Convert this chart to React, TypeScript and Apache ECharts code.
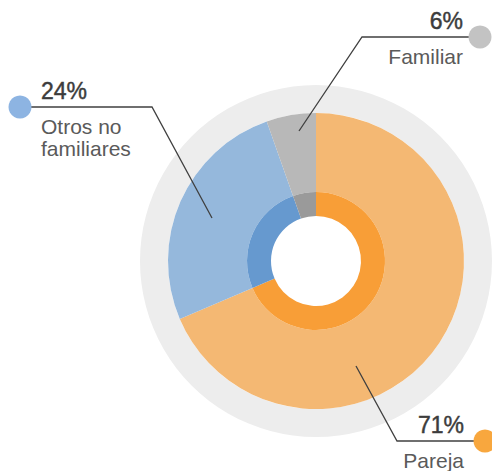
import React, { useEffect, useRef } from 'react';
import * as echarts from 'echarts';

// Data (clockwise from 12 o'clock)
const categories = ['Pareja', 'Otros no familiares', 'Familiar'];
const shares = [68.6, 26.0, 5.4]; // arc sizes as drawn in the picture
const percentLabels = ['71%', '24%', '6%'];
const nameLines = [['Pareja'], ['Otros no', 'familiares'], ['Familiar']];

// Styles
const lightColors = ['#F4B873', '#95B8DC', '#B8B8B8'];
const darkColors = ['#F89E37', '#6699CF', '#9A9A9A'];
const dotColors = ['#F8A73E', '#8DB4E2', '#C3C3C3'];

const CX = 316;
const CY = 261;

const labelLayouts = [
  { anchor: [356, 366], elbow: [397, 441], end: [474, 441], side: 'right', textX: 464, dot: [485, 441] },
  { anchor: [212, 218], elbow: [152, 107], end: [31, 107], side: 'left', textX: 41, dot: [20, 107] },
  { anchor: [299, 131], elbow: [362, 37], end: [469, 37], side: 'right', textX: 463, dot: [480, 37] },
];

const FONT = '"Liberation Sans", Arial, sans-serif';

function richFor(side: string) {
  return {
    p: {
      fontSize: 23,
      color: '#3C3C3C',
      textBorderColor: '#3C3C3C',
      textBorderWidth: 0.45,
      lineHeight: 48,
      fontFamily: FONT,
      align: side,
    },
    n: { fontSize: 21, color: '#5A5A5A', lineHeight: 22, fontFamily: FONT, align: side },
  };
}

export default function App() {
  const ref = useRef<HTMLDivElement>(null);
  useEffect(() => {
    document.body.style.margin = '0';
    const chart = echarts.init(ref.current!, undefined, { renderer: 'svg' });
    chart.setOption({
      animation: false,
      backgroundColor: '#ffffff',
      series: [
        {
          type: 'pie',
          silent: true,
          z: 1,
          center: [CX, CY],
          radius: [148, 176],
          label: { show: false },
          labelLine: { show: false },
          data: [{ value: 1, name: 'fondo', itemStyle: { color: '#EDEDED' } }],
        },
        {
          type: 'pie',
          silent: true,
          z: 2,
          center: [CX, CY],
          radius: [69, 148],
          label: { show: false },
          labelLine: { show: false },
          data: categories.map((c, i) => ({
            name: c,
            value: shares[i],
            itemStyle: { color: lightColors[i] },
          })),
        },
        {
          type: 'pie',
          silent: true,
          z: 2,
          center: [CX, CY],
          radius: [45, 69],
          label: { show: false },
          labelLine: { show: false },
          data: categories.map((c, i) => ({
            name: c,
            value: shares[i],
            itemStyle: { color: darkColors[i] },
          })),
        },
        {
          // label carrier (transparent sectors) drawn on top
          type: 'pie',
          silent: true,
          z: 5,
          center: [CX, CY],
          radius: [69, 148],
          avoidLabelOverlap: false,
          data: categories.map((c, i) => ({
            name: c,
            value: shares[i],
            itemStyle: { color: 'rgba(0,0,0,0)' },
            label: {
              align: labelLayouts[i].side,
              rich: richFor(labelLayouts[i].side),
            },
          })),
          label: {
            show: true,
            position: 'outside',
            fontFamily: FONT,
            formatter: (p: any) =>
              `{p|${percentLabels[p.dataIndex]}}\n` +
              nameLines[p.dataIndex].map((s) => `{n|${s}}`).join('\n'),
          },
          labelLine: {
            show: true,
            lineStyle: { color: '#404040', width: 1.3 },
          },
          labelLayout: (params: any) => {
            const L = labelLayouts[params.dataIndex];
            const lineY = L.elbow[1];
            return {
              x: L.textX,
              y: lineY - 40,
              align: L.side,
              verticalAlign: 'top',
              labelLinePoints: [L.anchor, L.elbow, L.end],
            };
          },
        },
      ],
      graphic: labelLayouts.map((L, i) => ({
        type: 'circle',
        z: 100,
        shape: { cx: L.dot[0], cy: L.dot[1], r: 11.5 },
        style: { fill: dotColors[i] },
        silent: true,
      })),
    });
    return () => chart.dispose();
  }, []);
  return <div ref={ref} style={{ width: 492, height: 471 }} />;
}
